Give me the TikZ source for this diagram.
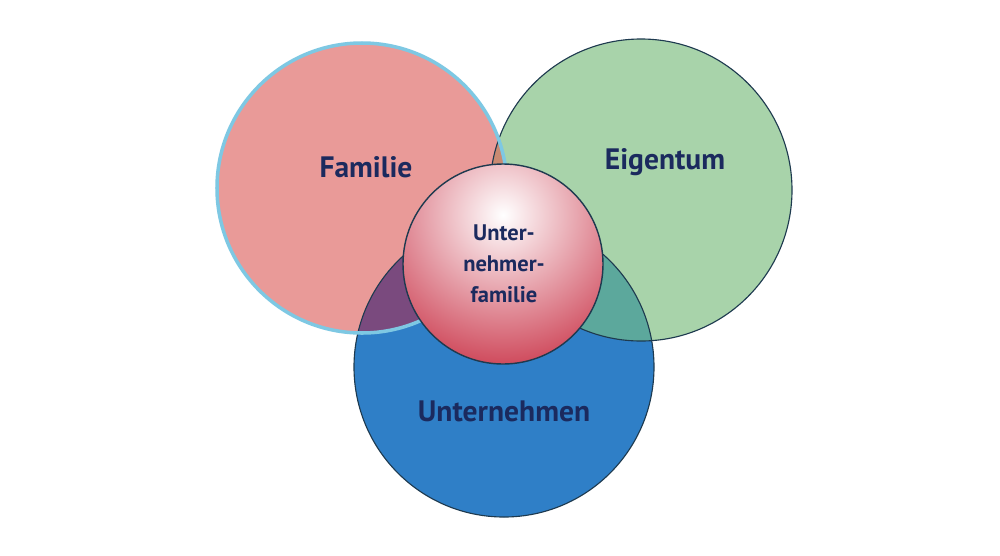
\documentclass[tikz,border=0pt]{standalone}
\usepackage{fontspec}
\setmainfont{PT Sans}
\definecolor{famc}{HTML}{E99A98}
\definecolor{eigc}{HTML}{A8D3AA}
\definecolor{untc}{HTML}{2F7FC7}
\definecolor{fe}{HTML}{C98A72}
\definecolor{fu}{HTML}{7A4A7E}
\definecolor{eu}{HTML}{5CA89C}
\definecolor{edge}{HTML}{1E3A4F}
\definecolor{famedge}{HTML}{7EC8E3}
\definecolor{txt}{HTML}{1B2A5E}
\definecolor{redc}{HTML}{CF4A5C}
\begin{document}
\begin{tikzpicture}[x=0.025cm,y=-0.025cm,
  lbl/.style={text=txt,font=\bfseries\fontsize{21}{24}\selectfont,align=center},
  clbl/.style={text=txt,font=\bfseries\fontsize{16}{22}\selectfont,align=center}]
\useasboundingbox (0,0) rectangle (1000,555);
\fill[white] (0,0) rectangle (1000,555);
\coordinate (F) at (362,188);
\coordinate (E) at (641,190);
\coordinate (U) at (504,367);
\coordinate (C) at (503,264);
\coordinate (Cs) at (503,215);
% base fills
\fill[eigc] (E) circle (151);
\fill[untc] (U) circle (150);
\fill[famc] (F) circle (145);
% overlaps
\begin{scope}\clip (F) circle (145); \fill[fe] (E) circle (151); \end{scope}
\begin{scope}\clip (F) circle (145); \fill[fu] (U) circle (150); \end{scope}
\begin{scope}\clip (E) circle (151); \fill[eu] (U) circle (150); \end{scope}
% outlines
\draw[edge,line width=0.8pt] (E) circle (151);
\draw[edge,line width=0.8pt] (U) circle (150);
\draw[famedge,line width=2.5pt] (F) circle (145);
% center
\begin{scope}
\clip (C) circle (100);
\shade[inner color=white,middle color=white!85!redc,outer color=redc] (Cs) circle (150);
\end{scope}
\draw[edge,line width=1pt] (C) circle (100);
\node[lbl] (fam) at (366,167) {Familie};
\node[lbl] (eig) at (665,162) {Eigentum};
\node[lbl] (unt) at (504,411) {Unternehmen};
\node[clbl] (cen) at (504,264) {Unter-\\nehmer-\\familie};
\end{tikzpicture}
\end{document}
